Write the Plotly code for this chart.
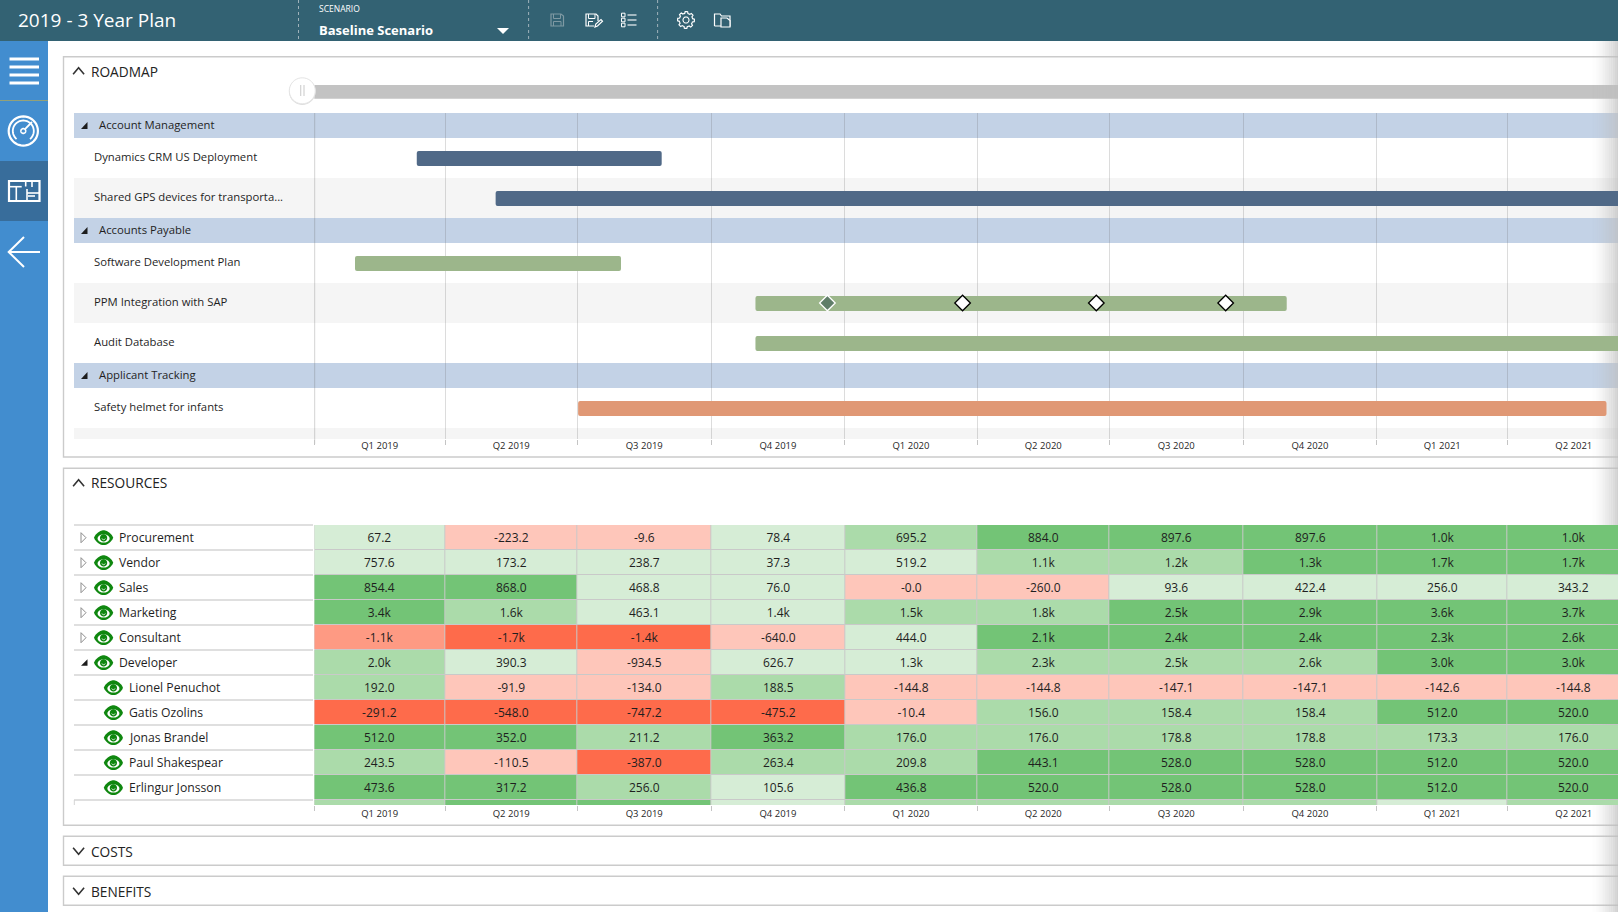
import math
import pandas as pd
import plotly.graph_objects as go

# ---------- data ----------
quarter_labels = ["Q1 2019", "Q2 2019", "Q3 2019", "Q4 2019", "Q1 2020", "Q2 2020", "Q3 2020", "Q4 2020", "Q1 2021", "Q2 2021"]
quarter_starts = ["2019-01-01", "2019-04-01", "2019-07-01", "2019-10-01", "2020-01-01", "2020-04-01", "2020-07-01", "2020-10-01", "2021-01-01", "2021-04-01", "2021-07-01"]

roadmap_rows = ["Account Management", "Dynamics CRM US Deployment", "Shared GPS devices for transporta...", "Accounts Payable",
                "Software Development Plan", "PPM Integration with SAP", "Audit Database", "Applicant Tracking", "Safety helmet for infants", ""]
roadmap_kinds = ["group", "task", "task", "group", "task", "task", "task", "group", "task", "task"]
row_heights = [25, 40, 40, 25, 40, 40, 40, 25, 40, 11]

task_names = ["Dynamics CRM US Deployment", "Shared GPS devices for transporta...", "Software Development Plan",
              "PPM Integration with SAP", "Audit Database", "Safety helmet for infants"]
task_starts = ["2019-03-12 12:00", "2019-05-05 18:00", "2019-01-29 00:00", "2019-10-31 12:00", "2019-10-31 12:00", "2019-07-01 12:00"]
task_ends = ["2019-08-28", "2022-01-01", "2019-07-31", "2020-10-31", "2022-01-01", "2021-06-08"]
task_colors = ["#506987", "#506987", "#9cb68b", "#9cb68b", "#9cb68b", "#e09875"]

milestone_dates = ["2019-12-20", "2020-03-22", "2020-06-22", "2020-09-19"]
milestone_fill = ["#5f7d68", "#ffffff", "#ffffff", "#ffffff"]
milestone_line = ["#ffffff", "#000000", "#000000", "#000000"]

resource_names = ["Procurement", "Vendor", "Sales", "Marketing", "Consultant", "Developer",
                  "Lionel Penuchot", "Gatis Ozolins", "Jonas Brandel", "Paul Shakespear", "Erlingur Jonsson", ""]
resource_indent = [0, 0, 0, 0, 0, 0, 1, 1, 1, 1, 1, 1]
procurement = ["67.2", "-223.2", "-9.6", "78.4", "695.2", "884.0", "897.6", "897.6", "1.0k", "1.0k"]
vendor = ["757.6", "173.2", "238.7", "37.3", "519.2", "1.1k", "1.2k", "1.3k", "1.7k", "1.7k"]
sales = ["854.4", "868.0", "468.8", "76.0", "-0.0", "-260.0", "93.6", "422.4", "256.0", "343.2"]
marketing = ["3.4k", "1.6k", "463.1", "1.4k", "1.5k", "1.8k", "2.5k", "2.9k", "3.6k", "3.7k"]
consultant = ["-1.1k", "-1.7k", "-1.4k", "-640.0", "444.0", "2.1k", "2.4k", "2.4k", "2.3k", "2.6k"]
developer = ["2.0k", "390.3", "-934.5", "626.7", "1.3k", "2.3k", "2.5k", "2.6k", "3.0k", "3.0k"]
lionel = ["192.0", "-91.9", "-134.0", "188.5", "-144.8", "-144.8", "-147.1", "-147.1", "-142.6", "-144.8"]
gatis = ["-291.2", "-548.0", "-747.2", "-475.2", "-10.4", "156.0", "158.4", "158.4", "512.0", "520.0"]
jonas = ["512.0", "352.0", "211.2", "363.2", "176.0", "176.0", "178.8", "178.8", "173.3", "176.0"]
paul = ["243.5", "-110.5", "-387.0", "263.4", "209.8", "443.1", "528.0", "528.0", "512.0", "520.0"]
erlingur = ["473.6", "317.2", "256.0", "105.6", "436.8", "520.0", "528.0", "528.0", "512.0", "520.0"]
next_row = [""] * 10

# load status: 0 severe over, 1 over, 2 slight over, 3 light, 4 moderate, 5 high availability
procurement_s = [3, 2, 2, 3, 4, 5, 5, 5, 5, 5]
vendor_s = [3, 3, 3, 3, 3, 4, 4, 5, 5, 5]
sales_s = [5, 5, 3, 3, 2, 2, 3, 3, 3, 3]
marketing_s = [5, 4, 3, 3, 4, 4, 5, 5, 5, 5]
consultant_s = [1, 0, 0, 2, 3, 5, 5, 5, 5, 5]
developer_s = [4, 3, 2, 3, 3, 4, 4, 4, 5, 5]
lionel_s = [4, 2, 2, 4, 2, 2, 2, 2, 2, 2]
gatis_s = [0, 0, 0, 0, 2, 4, 4, 4, 5, 5]
jonas_s = [5, 5, 4, 5, 4, 4, 4, 4, 4, 4]
paul_s = [4, 2, 0, 4, 4, 5, 5, 5, 5, 5]
erlingur_s = [5, 5, 4, 3, 5, 5, 5, 5, 5, 5]
next_s = [4, 5, 5, 3, 4, 4, 4, 4, 3, 4]

status_colors = ["#fe6b4b", "#fe9a83", "#fec6ba", "#d6edd6", "#abdbaa", "#73c476"]

heat_text = [procurement, vendor, sales, marketing, consultant, developer, lionel, gatis, jonas, paul, erlingur, next_row]
heat_status = [procurement_s, vendor_s, sales_s, marketing_s, consultant_s, developer_s, lionel_s, gatis_s, jonas_s, paul_s, erlingur_s, next_s]

# ---------- style ----------
W, H = 1622, 912
FONT = "Open Sans"
INK = "#1f1f1f"
HEADER = "#336273"
SIDE = "#428dcf"
SIDE_SEL = "#386d9b"
BAND = "#c3d2e6"
STRIPE = "#f5f5f5"
BORDER = "#cbcbcb"
GRID = "rgba(110,110,110,0.24)"
LEFT, RIGHT = 314.3, 1618
RANGE_END = "2021-06-15 22:00"

shapes = []
annots = []


def X(p):
    return p / W


def Y(p):
    return 1 - p / H


def rect(x0, y0, x1, y1, fill=None, line=None, lw=1, layer="below"):
    shapes.append(dict(type="rect", xref="paper", yref="paper", x0=X(x0), x1=X(x1), y0=Y(y0), y1=Y(y1),
                       fillcolor=fill or "rgba(0,0,0,0)", line=dict(color=line or "rgba(0,0,0,0)", width=lw if line else 0), layer=layer))


def seg(x0, y0, x1, y1, color, lw=1, dash="solid", layer="below"):
    shapes.append(dict(type="line", xref="paper", yref="paper", x0=X(x0), x1=X(x1), y0=Y(y0), y1=Y(y1),
                       line=dict(color=color, width=lw, dash=dash), layer=layer))


def poly(pts, color=None, lw=1, fill=None, closed=False, layer="above"):
    d = "M" + " L".join(f"{X(a):.5f},{Y(b):.5f}" for a, b in pts) + (" Z" if closed else "")
    shapes.append(dict(type="path", xref="paper", yref="paper", path=d, fillcolor=fill or "rgba(0,0,0,0)",
                       line=dict(color=color or "rgba(0,0,0,0)", width=lw if color else 0), layer=layer))


def arc(cx, cy, rx, ry, a0=0, a1=360, n=40):
    return [(cx + rx * math.cos(math.radians(a0 + (a1 - a0) * i / n)),
             cy + ry * math.sin(math.radians(a0 + (a1 - a0) * i / n))) for i in range(n + 1)]


def label(x, y, text, size=12, color=INK, anchor="left", family=FONT):
    annots.append(dict(xref="paper", yref="paper", x=X(x), y=Y(y), text=text, showarrow=False, xanchor=anchor, yanchor="middle",
                       font=dict(family=family, size=size, color=color), borderpad=0, borderwidth=0))


def chevron(x, y, up=True):
    s = -1 if up else 1
    poly([(x - 5.5, y - s * 3.2), (x, y + s * 3.2), (x + 5.5, y - s * 3.2)], color="#333333", lw=1.6)


def eye(cx, cy):
    top = [(cx - 9.6 + 19.2 * i / 24, cy - 7.4 * math.sin(math.pi * i / 24) ** 0.7) for i in range(25)]
    bot = [(cx + 9.6 - 19.2 * i / 24, cy + 7.4 * math.sin(math.pi * i / 24) ** 0.7) for i in range(25)]
    poly(top + bot, fill="#0f870f", closed=True)
    poly(arc(cx, cy + 0.8, 6, 4.1), fill="#ffffff", closed=True)
    poly(arc(cx, cy + 0.2, 3.6, 3.6), fill="#0f870f", closed=True)
    poly(arc(cx, cy + 0.2, 1.8, 1.8, 20, 160, 8), color="#ffffff", lw=0.8)


# ---------- page chrome ----------
rect(0, 0, 1618, 41, fill=HEADER)
rect(0, 41, 48, 912, fill=SIDE)
rect(0, 161, 48, 221, fill=SIDE_SEL)
seg(0, 100.5, 48, 100.5, "#93a178", 1)
for sx in (298.5, 528.6, 657.6):
    seg(sx, 0, sx, 41, "#9fb2ba", 1, "dot")

# panels
for top, bottom in ((56.7, 457), (468.3, 825.3), (836.3, 865.3), (876.3, 905.3)):
    rect(63.5, top, 1640, bottom, fill="#ffffff", line=BORDER, lw=1.4)

# header text
label(18, 20, "2019 - 3 Year Plan", 19, "#ffffff")
label(319, 8.5, "SCENARIO", 8.5, "#ffffff")
label(319, 30, "<b>Baseline Scenario</b>", 13, "#ffffff")
poly([(497, 28), (509, 28), (503, 34)], fill="#ffffff", closed=True)

# header icons
c = "#ffffff"
g = "#7f99a3"
poly([(551, 14), (561, 14), (563.5, 16), (563.5, 26), (551, 26)], color=g, lw=1.2, closed=True)
poly([(553.5, 14), (553.5, 18.5), (560.5, 18.5), (560.5, 14)], color=g, lw=1)
poly([(553.5, 26), (553.5, 21.5), (561, 21.5), (561, 26)], color=g, lw=1)
poly([(594, 26), (586, 26), (586, 14), (596, 14), (598, 16), (598, 21)], color=c, lw=1.2)
poly([(588.5, 14), (588.5, 18.5), (595, 18.5), (595, 14)], color=c, lw=1)
poly([(588.5, 26), (588.5, 21.5), (593, 21.5)], color=c, lw=1)
poly([(595, 27), (595.8, 24), (601, 19.5), (602.5, 21.2), (597.5, 26)], color=c, lw=1.2, closed=True)
for yy in (15, 20, 25):
    rect(621.5, yy - 1.8, 625, yy + 1.8, line=c, lw=1, layer="above")
    seg(627.5, yy, 636.5, yy, c, 1.1, layer="above")
gear = []
for i in range(64):
    ang = 2 * math.pi * i / 64
    r = 8.4 if (i % 8) in (0, 1, 2, 7) else 6.7
    gear.append((686 + r * math.cos(ang), 20 + r * math.sin(ang)))
poly(gear, color=c, lw=1.2, closed=True)
poly(arc(686, 20, 3, 3), color=c, lw=1.1, closed=True)
poly([(714.5, 26), (714.5, 14), (720, 14), (721.5, 16), (730, 16), (730, 26), (714.5, 26)], color=c, lw=1.2)
poly([(721, 27), (721, 18), (727, 18), (730, 20.5), (730, 27)], color=c, fill=HEADER, lw=1.2, closed=True)

# sidebar icons
for yy in (59, 67, 75, 83):
    seg(9.5, yy, 39, yy, "#ffffff", 3)
poly(arc(23.3, 131, 14.6, 14.6), color="#ffffff", lw=2.2, closed=True)
poly(arc(23.3, 131, 10.5, 10.5, 130, 410), color="#ffffff", lw=1.8)
poly(arc(23.3, 131, 2.4, 2.4), color="#ffffff", lw=1.6, closed=True)
seg(25, 129.2, 32, 122, "#ffffff", 1.8, layer="above")
rect(9, 181, 39.5, 201, line="#ffffff", lw=2.2, layer="above")
for a, b, cc, d in ((9, 186.7, 21.7, 186.7), (16.3, 186.7, 16.3, 201), (25.7, 181, 25.7, 186.5), (27, 189, 27, 201),
                    (27, 193, 39, 193), (32, 181, 32, 187), (28, 196, 35, 196)):
    seg(a, b, cc, d, "#ffffff", 1.6, layer="above")
poly([(24, 237), (8.7, 252), (24, 267)], color="#ffffff", lw=2)
seg(8.7, 252, 40, 252, "#ffffff", 2, layer="above")

# section titles
for yy, text, up in ((71, "ROADMAP", True), (483, "RESOURCES", True), (851, "COSTS", False), (891, "BENEFITS", False)):
    chevron(78.6, yy, up)
    label(91, yy, text, 13.7, "#222222")

# slider
rect(LEFT, 85, 1640, 98.7, fill="#c3c3c3")
poly(arc(302.3, 91.6, 13.3, 13.3), fill="#dedede", closed=True)
poly(arc(302.3, 90.8, 13, 13), fill="#ffffff", color="#e4e4e4", lw=1, closed=True)
seg(300.7, 85, 300.7, 96, "#d2d2d2", 1.2, layer="above")
seg(304, 85, 304, 96, "#d2d2d2", 1.2, layer="above")

# roadmap row bands and row labels (rows laid out from row_heights)
GANTT_TOP, GANTT_BOTTOM = 113.0, 439.0
tops = [GANTT_TOP + sum(row_heights[:i]) for i in range(len(row_heights))]
centers = {}
stripe = False
for name, kind, top, h in zip(roadmap_rows, roadmap_kinds, tops, row_heights):
    if kind == "group":
        rect(74, top, 1640, top + h, fill=BAND)
        poly([(87.5, top + 9), (87.5, top + 16), (81, top + 16)], fill="#1c1c1c", closed=True)
        label(99, top + 11.2, name, 11.3)
        stripe = False
    else:
        if stripe:
            rect(74, top, 1640, top + h, fill=STRIPE)
        stripe = not stripe
        if name:
            label(94, top + 18.3, name, 11.3)
            centers[name] = top + h / 2 + 0.5
seg(LEFT + 0.4, GANTT_TOP, LEFT + 0.4, 444, "rgba(110,110,110,0.3)", 1)

# resources table, left side
HEAT_TOP, PITCH, HEAT_BOTTOM = 525.0, 25.0, 805.0
rect(LEFT, HEAT_TOP, 1640, HEAT_BOTTOM, fill="#c9c9c9")
for i, (name, ind) in enumerate(zip(resource_names, resource_indent)):
    ly = HEAT_TOP + PITCH * i
    seg(74, ly, 313, ly, "#d4d4d4", 1.6)
    cy = ly + 12.7
    if name:
        eye(103.6 + 9.8 * ind, cy)
        label(119 + 10 * ind, cy, name, 12.2)
        if name == "Developer":
            poly([(87.5, cy - 3.5), (87.5, cy + 3), (81, cy + 3)], fill="#1c1c1c", closed=True)
        elif not ind:
            poly([(81, cy - 5), (86, cy), (81, cy + 5)], color="#8c8c8c", fill="#ffffff", lw=1, closed=True)
seg(74.3, 800, 74.3, 805, "#d4d4d4", 1)

# right-edge fade
steps = 14
for i in range(steps):
    x0 = 1592 + (1618 - 1592) * i / steps
    x1 = 1592 + (1618 - 1592) * (i + 1) / steps
    a = 0.7 * ((i + 1) / steps) ** 1.6
    rect(x0, 41, x1, 912, fill=f"rgba(190,190,190,{a:.3f})")
rect(1618, 0, 1622, 912, fill="#ffffff", layer="above")

# ---------- figure ----------
fig = go.Figure()

starts = pd.to_datetime(task_starts, format="mixed")
ends = pd.to_datetime(task_ends, format="mixed")
durations_ms = [(e - s).total_seconds() * 1000 for s, e in zip(starts, ends)]
fig.add_trace(go.Bar(orientation="h", y=[centers[n] for n in task_names], base=task_starts, x=durations_ms, width=15,
                     marker=dict(color=task_colors, line=dict(width=0)), xaxis="x", yaxis="y", showlegend=False, hoverinfo="skip"))
fig.add_trace(go.Scatter(x=milestone_dates, y=[centers["PPM Integration with SAP"] - 0.5] * 4, mode="markers", xaxis="x", yaxis="y",
                         marker=dict(symbol="diamond", size=12, color=milestone_fill, line=dict(color=milestone_line, width=1.3)),
                         showlegend=False, hoverinfo="skip"))

colorscale = []
n_status = len(status_colors)
for i, col in enumerate(status_colors):
    colorscale += [[i / n_status, col], [(i + 1) / n_status, col]]
fig.add_trace(go.Heatmap(x=quarter_starts, y=list(range(len(heat_status))), z=heat_status, text=heat_text, texttemplate="%{text}",
                         textfont=dict(family=FONT, size=12, color=INK), colorscale=colorscale, zmin=-0.5, zmax=n_status - 0.5,
                         showscale=False, xgap=1, ygap=1, xaxis="x2", yaxis="y2", hoverinfo="skip"))

q = pd.to_datetime(quarter_starts)
mids = [q[i] + (q[i + 1] - q[i]) / 2 for i in range(len(quarter_labels))]
time_axis = dict(type="date", range=[quarter_starts[0], RANGE_END], domain=[X(LEFT), X(RIGHT)], tickmode="array", tickvals=mids,
                 ticktext=quarter_labels, ticks="", showgrid=False, showline=False, zeroline=False,
                 tickfont=dict(family=FONT, size=9.5, color=INK),
                 minor=dict(tickmode="array", tickvals=quarter_starts[:-1], ticks="outside", ticklen=5, tickwidth=1, tickcolor="#c4c4c4"))
x1 = dict(time_axis, anchor="y", ticklabelstandoff=-1)
x1["minor"] = dict(time_axis["minor"], showgrid=True, gridcolor=GRID, gridwidth=1)
x2 = dict(time_axis, anchor="y2", matches="x", ticklabelstandoff=1)

fig.update_layout(
    width=W, height=H, margin=dict(l=0, r=0, t=0, b=0), autosize=False,
    paper_bgcolor="#ffffff", plot_bgcolor="rgba(0,0,0,0)", barcornerradius=2, barmode="overlay",
    xaxis=x1, xaxis2=x2,
    yaxis=dict(domain=[Y(GANTT_BOTTOM), Y(GANTT_TOP)], range=[GANTT_BOTTOM, GANTT_TOP], visible=False, anchor="x"),
    yaxis2=dict(domain=[Y(HEAT_BOTTOM), Y(HEAT_TOP)], range=[(HEAT_BOTTOM - HEAT_TOP) / PITCH - 0.5, -0.5], visible=False, anchor="x2"),
    shapes=shapes, annotations=annots, showlegend=False, font=dict(family=FONT),
)

fig.write_html("out.html", config=dict(displayModeBar=False, responsive=False),
               post_script="document.body.style.margin='0';document.body.style.overflow='hidden';")
